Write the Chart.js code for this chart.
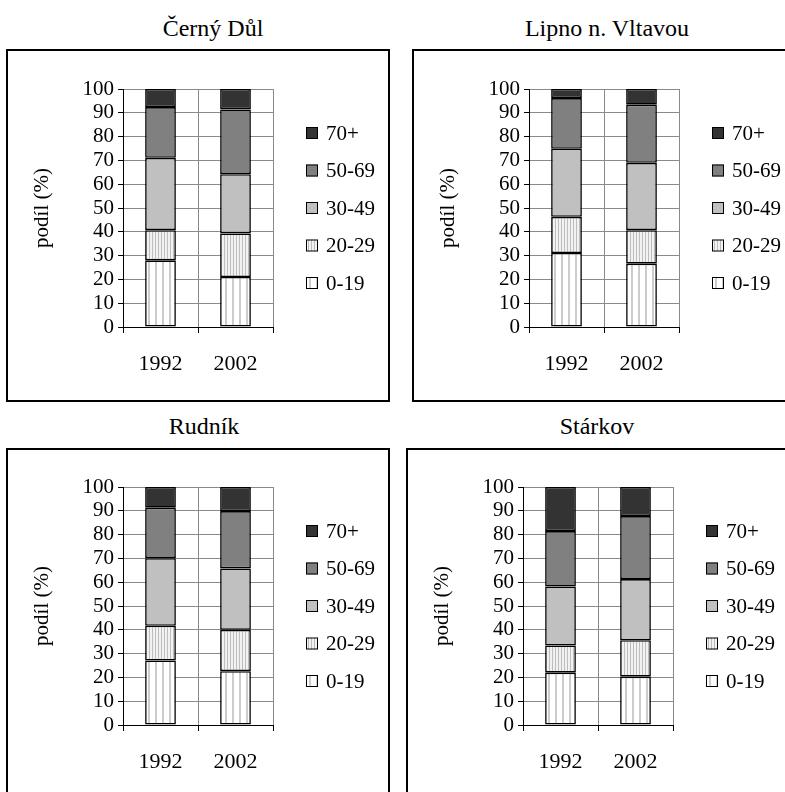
<!DOCTYPE html>
<html>
<head>
<meta charset="utf-8">
<script src="https://cdn.jsdelivr.net/npm/chart.js@4.4.1/dist/chart.umd.min.js"></script>
<style>
  html, body { margin: 0; padding: 0; background: #fff; width: 785px; height: 792px; overflow: hidden; }
  .frame { position: absolute; border: 2px solid #000; box-sizing: border-box; pointer-events: none; }
  .cv { position: absolute; }
  .title { position: absolute; font-family: "Liberation Serif", "Times New Roman", Tinos, "DejaVu Serif", "Noto Serif", serif; font-size: 24px; line-height: 28px; height: 28px; color: #000; white-space: nowrap; transform: translateX(-50%); }
</style>
</head>
<body>
<script>
// ---- data ----
const categories = ["1992", "2002"];
const ageGroups = ["0-19", "20-29", "30-49", "50-69", "70+"];
const panelTitles = ["Černý Důl", "Lipno n. Vltavou", "Rudník", "Stárkov"];
const cernyDul   = [[28.0, 21.0], [12.7, 18.3], [30.4, 24.9], [21.3, 27.2], [7.6, 8.6]];
const lipno      = [[31.1, 26.6], [15.2, 14.1], [28.6, 28.3], [21.3, 24.4], [3.8, 6.6]];
const rudnik     = [[27.1, 22.6], [14.6, 17.4], [28.4, 25.8], [21.2, 24.1], [8.7, 10.1]];
const starkov    = [[22.0, 20.3], [11.4, 15.3], [24.8, 25.7], [23.3, 26.5], [18.5, 12.2]];
const yTicks = [0, 10, 20, 30, 40, 50, 60, 70, 80, 90, 100];
const yTitle = "podíl (%)";

const panelData = [cernyDul, lipno, rudnik, starkov];

// ---- layout (positions only) ----
const panels = [
  { frame: [6, 49, 384, 353],   canvas: [8, 50],   title: [213, 14] },
  { frame: [412, 49, 400, 353], canvas: [414, 50], title: [607, 14] },
  { frame: [6, 448, 384, 360],  canvas: [8, 448],  title: [204, 412] },
  { frame: [406, 448, 400, 360], canvas: [408, 448], title: [597, 412] }
];
const CW = 380, CH = 350;
const FONT = '"Liberation Serif", "Times New Roman", Tinos, "DejaVu Serif", "Noto Serif", serif';

function stripePattern(bg, line, period, lw) {
  const c = document.createElement('canvas');
  c.width = period; c.height = 4;
  const x = c.getContext('2d');
  x.fillStyle = bg; x.fillRect(0, 0, period, 4);
  x.fillStyle = line; x.fillRect(0, 0, lw, 4);
  return x.createPattern(c, 'repeat');
}

const fills = [
  stripePattern('#ffffff', '#cccccc', 7, 2),
  stripePattern('#f2f2f2', '#bdbdbd', 3, 1),
  '#c0c0c0',
  '#808080',
  '#333333'
];

const legendPlugin = {
  id: 'sideLegend',
  afterDraw(chart) {
    const ctx = chart.ctx;
    const a = chart.chartArea;
    const ds = chart.data.datasets;
    ctx.save();
    ctx.font = '21px ' + FONT;
    ctx.textBaseline = 'middle';
    ctx.textAlign = 'left';
    for (let i = 0; i < ds.length; i++) {
      const d = ds[ds.length - 1 - i];
      const cy = a.top + 44 + i * 37.5;
      const bx = a.right + 33;
      ctx.fillStyle = d.backgroundColor;
      ctx.fillRect(bx, cy - 6, 12, 12);
      ctx.strokeStyle = '#000';
      ctx.lineWidth = 1;
      ctx.strokeRect(bx + 0.5, cy - 5.5, 11, 11);
      ctx.fillStyle = '#000';
      ctx.fillText(d.label, bx + 20, cy + 1);
    }
    ctx.restore();
  }
};

panels.forEach((p, idx) => {
  const t = document.createElement('div');
  t.className = 'title';
  t.style.left = p.title[0] + 'px';
  t.style.top = p.title[1] + 'px';
  t.textContent = panelTitles[idx];
  document.body.appendChild(t);

  const cv = document.createElement('canvas');
  cv.className = 'cv';
  cv.width = CW; cv.height = CH;
  cv.style.width = CW + 'px'; cv.style.height = CH + 'px';
  cv.style.left = p.canvas[0] + 'px';
  cv.style.top = p.canvas[1] + 'px';
  document.body.appendChild(cv);

  const f = document.createElement('div');
  f.className = 'frame';
  f.style.left = p.frame[0] + 'px';
  f.style.top = p.frame[1] + 'px';
  f.style.width = p.frame[2] + 'px';
  f.style.height = p.frame[3] + 'px';
  document.body.appendChild(f);

  const vals = panelData[idx];
  new Chart(cv, {
    type: 'bar',
    data: {
      labels: categories,
      datasets: ageGroups.map((g, i) => ({
        label: g,
        data: vals[i],
        backgroundColor: fills[i],
        borderColor: '#000',
        borderWidth: 1.6,
        borderSkipped: false,
        barPercentage: 0.41,
        categoryPercentage: 1.0
      }))
    },
    options: {
      responsive: false,
      animation: false,
      devicePixelRatio: 1,
      layout: { padding: { left: 0, top: 39, right: 115, bottom: 0 } },
      plugins: { legend: { display: false }, tooltip: { enabled: false }, title: { display: false } },
      scales: {
        x: {
          stacked: true,
          grid: { offset: true, color: '#8a8a8a', lineWidth: 1, tickColor: '#000', tickLength: 6, drawOnChartArea: true },
          border: { color: '#000', width: 1 },
          ticks: { color: '#000', font: { family: FONT, size: 22 }, padding: 18, maxRotation: 0 },
          afterFit(s) { s.height = 73; }
        },
        y: {
          stacked: true,
          min: 0, max: 100,
          afterBuildTicks(s) { s.ticks = yTicks.map(v => ({ value: v })); },
          grid: { color: '#8a8a8a', lineWidth: 1, tickColor: '#000', tickLength: 5 },
          border: { color: '#000', width: 1 },
          ticks: { color: '#000', font: { family: FONT, size: 21 }, padding: 4, autoSkip: false },
          title: { display: true, text: yTitle, color: '#000', font: { family: FONT, size: 21 }, padding: { top: 22, bottom: 0 } },
          afterFit(s) { s.width = 115; }
        }
      }
    },
    plugins: [legendPlugin]
  });
});
</script>
</body>
</html>
